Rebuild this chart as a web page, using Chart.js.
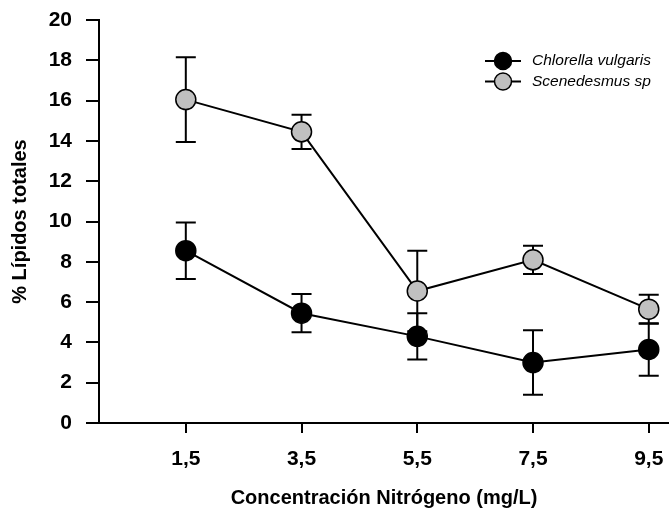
<!DOCTYPE html>
<html>
<head>
<meta charset="utf-8">
<script src="https://cdn.jsdelivr.net/npm/chart.js@4"></script>
<style>
  html, body { margin: 0; padding: 0; background: #fff; overflow: hidden; }
  #wrap { width: 669px; height: 510px; position: relative; }
  canvas { display: block; }
</style>
</head>
<body>
<div id="wrap"><canvas id="chart"></canvas></div>
<script>
const nitrogeno = [1.5, 3.5, 5.5, 7.5, 9.5];
const chlorella = [8.55, 5.45, 4.3, 3.0, 3.65];
const chlorellaErr = [1.4, 0.95, 1.15, 1.6, 1.3];
const scenedesmus = [16.05, 14.45, 6.55, 8.1, 5.65];
const scenedesmusErr = [2.1, 0.85, 2.0, 0.7, 0.72];
const yTicks = [0, 2, 4, 6, 8, 10, 12, 14, 16, 18, 20];

const FONT = "Arial, 'Liberation Sans', sans-serif";
const fmt = v => String(v).replace('.', ',');

const toPoints = ys => nitrogeno.map((x, i) => ({ x: x, y: ys[i] }));

// barras de error, dibujadas antes que los puntos
const errorBars = {
    id: 'errorBars',
    beforeDatasetsDraw(chart) {
        const ctx = chart.ctx;
        const xs = chart.scales.x, ys = chart.scales.y;
        ctx.save();
        ctx.strokeStyle = '#000';
        ctx.lineWidth = 2;
        chart.data.datasets.forEach(ds => {
            ds.data.forEach((p, i) => {
                const e = ds.errors[i];
                const px = xs.getPixelForValue(p.x);
                const top = ys.getPixelForValue(p.y + e);
                const bot = ys.getPixelForValue(p.y - e);
                ctx.beginPath();
                ctx.moveTo(px, top); ctx.lineTo(px, bot);
                ctx.moveTo(px - 10, top); ctx.lineTo(px + 10, top);
                ctx.moveTo(px - 10, bot); ctx.lineTo(px + 10, bot);
                ctx.stroke();
            });
        });
        ctx.restore();
    }
};

// leyenda propia: linea atravesando el marcador
const customLegend = {
    id: 'customLegend',
    afterDraw(chart) {
        const ctx = chart.ctx;
        ctx.save();
        chart.data.datasets.forEach((ds, i) => {
            const y = 61 + i * 20.5;
            ctx.strokeStyle = '#000';
            ctx.lineWidth = 2;
            ctx.beginPath();
            ctx.moveTo(485, y); ctx.lineTo(521, y);
            ctx.stroke();
            ctx.beginPath();
            ctx.arc(503, y, 8.5, 0, Math.PI * 2);
            ctx.fillStyle = ds.backgroundColor;
            ctx.fill();
            ctx.lineWidth = 1.5;
            ctx.stroke();
            ctx.fillStyle = '#000';
            ctx.font = 'italic 15.5px ' + FONT;
            ctx.textBaseline = 'middle';
            ctx.fillText(ds.label, 532, y);
        });
        ctx.restore();
    }
};

new Chart(document.getElementById('chart'), {
    type: 'line',
    data: {
        datasets: [
            { label: 'Chlorella vulgaris', data: toPoints(chlorella), errors: chlorellaErr,
              borderColor: '#000', borderWidth: 2, backgroundColor: '#000',
              pointRadius: 10, pointBorderColor: '#000', pointBorderWidth: 1.5, pointBackgroundColor: '#000' },
            { label: 'Scenedesmus sp', data: toPoints(scenedesmus), errors: scenedesmusErr,
              borderColor: '#000', borderWidth: 2, backgroundColor: '#c0c0c0',
              pointRadius: 10, pointBorderColor: '#000', pointBorderWidth: 1.5, pointBackgroundColor: '#c0c0c0' }
        ]
    },
    options: {
        responsive: true, maintainAspectRatio: false, animation: false,
        clip: false,
        layout: { autoPadding: false, padding: { top: 20, right: 0, left: 0, bottom: 0 } },
        plugins: { legend: { display: false }, tooltip: { enabled: false } },
        scales: {
            x: {
                type: 'linear', min: 0, max: 9.85,
                afterBuildTicks: s => { s.ticks = nitrogeno.map(v => ({ value: v })); },
                afterFit: s => { s.height = 87; s.paddingLeft = 0; s.paddingRight = 0; },
                grid: { display: true, drawOnChartArea: false, tickLength: 10, color: '#000', lineWidth: 2 },
                border: { color: '#000', width: 2 },
                ticks: { color: '#000', font: { family: FONT, size: 21, weight: 'bold', lineHeight: 2.53 }, padding: 0, callback: v => fmt(v) },
                title: { display: true, text: 'Concentración Nitrógeno (mg/L)', color: '#000',
                         font: { family: FONT, size: 20, weight: 'bold' }, padding: { top: 0, bottom: 0 } }
            },
            y: {
                min: 0, max: 20,
                afterBuildTicks: s => { s.ticks = yTicks.map(v => ({ value: v })); },
                afterFit: s => { s.width = 99; s.paddingTop = 0; s.paddingBottom = 0; },
                grid: { display: true, drawOnChartArea: false, tickLength: 13, color: '#000', lineWidth: 2 },
                border: { color: '#000', width: 2 },
                ticks: { color: '#000', font: { family: FONT, size: 21, weight: 'bold' }, padding: 14 },
                title: { display: true, text: '% Lípidos totales', color: '#000',
                         font: { family: FONT, size: 20, weight: 'bold' }, padding: { top: 8, bottom: 0 } }
            }
        }
    },
    plugins: [errorBars, customLegend]
});
</script>
</body>
</html>
